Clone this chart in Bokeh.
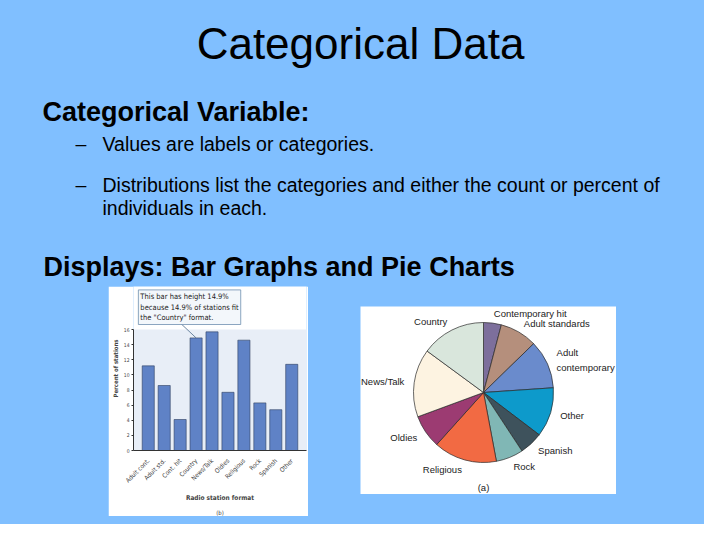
import math
import pandas as pd
from bokeh.plotting import figure
from bokeh.models import (ColumnDataSource, Range1d, FactorRange, FixedTicker,
                          BoxAnnotation, Label, Title, Spacer)
from bokeh.layouts import row, column
from bokeh.core.properties import value
from bokeh.embed import file_html
from bokeh.resources import INLINE

# ---------------- data ----------------
bar_labels = ["Adult cont.", "Adult std.", "Cont. hit", "Country", "News/Talk",
              "Oldies", "Religious", "Rock", "Spanish", "Other"]
bar_percents = [11.2, 8.6, 4.1, 14.9, 15.7, 7.7, 14.6, 6.3, 5.4, 11.4]
y_ticks = [0, 2, 4, 6, 8, 10, 12, 14, 16]

pie_labels = ["Contemporary hit", "Adult standards", "Adult\ncontemporary", "Other",
              "Spanish", "Rock", "Religious", "Oldies", "News/Talk", "Country"]
pie_percents = [4.1, 8.6, 11.2, 11.4, 5.4, 6.3, 14.6, 7.7, 15.7, 14.9]
pie_colors = ["#7d6f9c", "#b58f7c", "#6a8bcc", "#0d9acb", "#3e525c",
              "#80b7b5", "#f26a43", "#9c3b72", "#fdf3e1", "#d9e6dc"]

title_text = "Categorical Data"
heading1 = "Categorical Variable:"
bullet1 = "Values are labels or categories."
bullet2_l1 = "Distributions list the categories and either the count or percent of"
bullet2_l2 = "individuals in each."
heading2 = "Displays: Bar Graphs and Pie Charts"

# ---------------- styles ----------------
BLUE = "#80BFFF"
SANS = "Liberation Sans"
NARROW = "Liberation Sans Narrow, DejaVu Sans Condensed, Liberation Sans, sans-serif"
TOP_H = 286

# ---------------- top text area ----------------
top = figure(width=704, height=TOP_H, x_range=Range1d(0, 704), y_range=Range1d(TOP_H, 0),
             output_backend="svg", toolbar_location=None,
             x_axis_type=None, y_axis_type=None,
             background_fill_color=BLUE, border_fill_color=BLUE,
             outline_line_color=None, min_border=0)
top.grid.visible = False

def txt(x, y, s, size, bold=False, align="left"):
    top.text(x=[x], y=[y], text=[s], text_font=value(SANS),
             text_font_size=size, text_font_style="bold" if bold else "normal",
             text_align=align, text_baseline="alphabetic", text_color="black")

txt(360, 43, title_text, "44px", align="center")
txt(42, 111, heading1, "27px", bold=True)
txt(75, 143, "\u2013", "19.5px")
txt(102, 143, bullet1, "19.5px")
txt(75, 184, "\u2013", "19.5px")
txt(102, 184, bullet2_l1, "19.5px")
txt(102, 207, bullet2_l2, "19.5px")
txt(43, 266, heading2, "27px", bold=True)

# ---------------- bar chart ----------------
bar_src = ColumnDataSource(dict(label=bar_labels, pct=bar_percents))
bar = figure(width=200, height=230,
             x_range=FactorRange(factors=bar_labels, range_padding=0.085),
             y_range=Range1d(0, 21.7),
             output_backend="svg", toolbar_location=None,
             background_fill_color="white", border_fill_color="white",
             outline_line_color=None,
             min_border_left=18, min_border_right=2, min_border_top=0, min_border_bottom=47)
bar.grid.visible = False
bar.add_layout(BoxAnnotation(bottom=0, top=16, fill_color="#e8eef7", fill_alpha=1,
                             line_color=None, level="underlay"))
bar.vbar(x="label", top="pct", width=0.76, source=bar_src,
         fill_color="#5f82c6", line_color="#2f3f60", line_width=0.6)

ya = bar.yaxis[0]
ya.ticker = FixedTicker(ticks=y_ticks)
ya.bounds = (0, 16)
ya.axis_label = "Percent of stations"
ya.axis_label_text_font = NARROW
ya.axis_label_text_font_size = "6px"
ya.axis_label_text_font_style = "bold"
ya.axis_label_standoff = 2
ya.major_label_text_font = NARROW
ya.major_label_text_font_size = "5px"
ya.major_label_standoff = 2
ya.major_tick_out = 2
ya.major_tick_in = 0
ya.minor_tick_line_color = None
ya.axis_line_color = "#333333"
ya.major_tick_line_color = "#333333"

xa = bar.xaxis[0]
xa.axis_label = "Radio station format"
xa.axis_label_text_font = NARROW
xa.axis_label_text_font_size = "6.5px"
xa.axis_label_text_font_style = "bold"
xa.axis_label_standoff = 5
xa.major_label_orientation = math.pi / 4
xa.major_label_text_font = NARROW
xa.major_label_text_font_size = "6.3px"
xa.major_label_standoff = 3
xa.major_tick_line_color = None
xa.axis_line_color = "#333333"

bar.add_layout(Title(text="(b)", align="center", text_font=NARROW,
                     text_font_size="6px", text_font_style="normal",
                     standoff=2), "below")

note = Label(x=-0.12, y=21.25, text='This bar has height 14.9%\nbecause 14.9% of stations fit\nthe "Country" format.',
             text_font=NARROW, text_font_size="7.5px", text_align="left",
             text_baseline="top", text_color="#222222",
             background_fill_color="#f3f7fb", background_fill_alpha=1,
             border_line_color="#6f8fb0", border_line_width=0.8, padding=2)
bar.add_layout(note)
country_idx = bar_labels.index("Country")
bar.segment(x0=[2.04], y0=[17.8], x1=[bar_labels[country_idx]],
            y1=[bar_percents[country_idx]], line_color="#4a6a8a", line_width=0.8)

# ---------------- pie chart ----------------
df = pd.DataFrame(dict(label=pie_labels, pct=pie_percents, color=pie_colors))
frac = df["pct"] / df["pct"].sum()
cum_after = frac.cumsum()
cum_before = cum_after - frac
df["start"] = math.pi / 2 - 2 * math.pi * cum_before
df["end"] = math.pi / 2 - 2 * math.pi * cum_after
mid = math.pi / 2 - 2 * math.pi * (cum_before + frac / 2)
R = 70
RL = 80
df["lx"] = RL * mid.apply(math.cos)
df["ly"] = RL * mid.apply(math.sin)
df["align"] = ["left" if c > 0.1 else ("right" if c < -0.1 else "center")
               for c in mid.apply(math.cos)]

pie = figure(width=256, height=188, x_range=Range1d(-123, 133), y_range=Range1d(-102, 86),
             output_backend="svg", toolbar_location=None,
             x_axis_type=None, y_axis_type=None,
             background_fill_color="white", border_fill_color="white",
             outline_line_color=None, min_border=0)
pie.grid.visible = False
psrc = ColumnDataSource(df)
pie.wedge(x=0, y=0, radius=R, start_angle="start", end_angle="end", direction="clock",
          fill_color="color", line_color="#2a2a2a", line_width=0.7, source=psrc)
pie.text(x="lx", y="ly", text="label", text_align="align", text_baseline="middle",
         text_font=value(SANS), text_font_size="9.5px", text_color="#222222",
         text_line_height=1.3, source=psrc)
pie.text(x=[0], y=[-95], text=["(a)"], text_align="center", text_baseline="middle",
         text_font=value(SANS), text_font_size="9.5px", text_color="#222222")

# ---------------- layout ----------------
bstyle = {"background-color": BLUE}

def sp(w, h):
    return Spacer(width=w, height=h, styles=bstyle)

pie_col = column(sp(256, 20), pie, sp(256, 22), styles=bstyle)
mid_row = row(sp(108, 230), bar, sp(52, 230), pie_col, sp(88, 230), styles=bstyle)
page = column(top, mid_row, sp(704, 8), styles=bstyle)

open("out.html", "w").write(file_html(page, INLINE))
